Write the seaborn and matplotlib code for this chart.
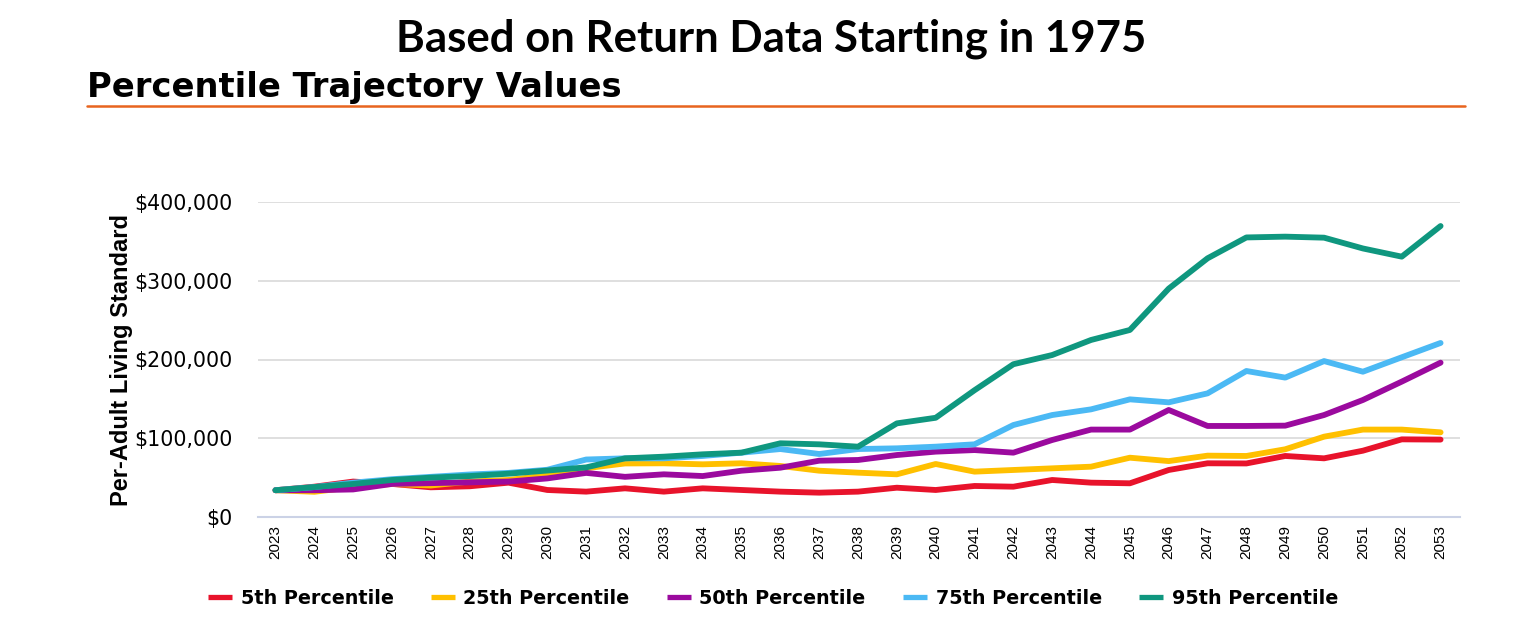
import pandas as pd
import matplotlib
matplotlib.use("Agg")
import matplotlib.pyplot as plt
from matplotlib.lines import Line2D
from matplotlib.ticker import FuncFormatter
import seaborn as sns

# Data (values in dollars)
years = list(range(2023, 2054))

p5 = [34000, 38500, 45000, 42000, 37700, 39000, 43600, 34300, 32200, 36400,
      32200, 36400, 34300, 32200, 30900, 32200, 37200, 34300, 39400, 38500,
      47000, 43600, 42800, 59700, 68200, 68000, 77500, 74500, 84200, 98600, 98300]
p25 = [34000, 32000, 38000, 42000, 40000, 45000, 47000, 53000, 62000, 68000,
       68200, 66900, 68200, 64800, 58800, 56300, 54200, 67300, 57600, 59700,
       61800, 63900, 75300, 71000, 77900, 77500, 86000, 102000, 111000, 111000, 107500]
p50 = [34000, 34000, 35000, 42000, 43000, 44000, 45000, 49000, 56000, 51000,
       54200, 52000, 58800, 62600, 71500, 72400, 78700, 83000, 85000, 81700,
       97800, 111000, 111000, 135900, 115600, 115600, 116000, 129500, 148600, 171900, 196000]
p75 = [34000, 38000, 43600, 48000, 51000, 54000, 56000, 60000, 73000, 74500,
       74500, 77500, 81700, 86300, 80000, 86300, 87200, 89300, 92300, 116800,
       129500, 136700, 149400, 145600, 157000, 185400, 177000, 198000, 184500, 202800, 221000]
p95 = [34000, 38000, 42000, 47000, 50000, 52000, 55000, 59000, 63000, 74500,
       76600, 79600, 81700, 93600, 92300, 89300, 118900, 126000, 161000, 194000,
       205700, 224800, 237500, 290000, 328500, 355000, 356000, 354700, 341000, 330600, 369500]

series_names = ["5th Percentile", "25th Percentile", "50th Percentile",
                "75th Percentile", "95th Percentile"]
series_values = [p5, p25, p50, p75, p95]
colors = ["#E8132B", "#FFC000", "#9B0A9E", "#4BB9F4", "#0F977F"]

records = []
for name, vals in zip(series_names, series_values):
    for yr, v in zip(years, vals):
        records.append({"year": yr, "value": v, "series": name})
df = pd.DataFrame(records)

sns.set_style("white")
plt.rcParams["font.family"] = ["Liberation Sans", "DejaVu Sans"]
plt.rcParams["text.color"] = "black"
plt.rcParams["axes.labelcolor"] = "black"
plt.rcParams["xtick.color"] = "black"
plt.rcParams["ytick.color"] = "black"

fig = plt.figure(figsize=(15.2, 6.32), dpi=100)
ax = fig.add_axes([258 / 1520, 1 - 517 / 632, (1460 - 258) / 1520, (517 - 202) / 632])

sns.lineplot(data=df, x="year", y="value", hue="series", hue_order=series_names,
             palette=colors, linewidth=4.2, ax=ax, legend=False)

ax.set_xlim(2022.55, 2053.5)
ax.set_ylim(0, 400000)
ax.set_yticks([0, 100000, 200000, 300000, 400000])
ax.yaxis.set_major_formatter(FuncFormatter(lambda v, p: f"${int(v):,}"))
ax.set_xticks(years)
ax.set_xticklabels([str(y) for y in years], rotation=90, fontsize=11)
ax.tick_params(axis="y", length=0, pad=18, labelsize=14.8, labelfontfamily="DejaVu Sans")
ax.tick_params(axis="x", length=0, pad=6)

ax.grid(axis="y", color="#D9D9D9", linewidth=1.2)
ax.set_axisbelow(True)
for s in ["top", "right", "left"]:
    ax.spines[s].set_visible(False)
ax.spines["bottom"].set_color("#CBD2E6")
ax.spines["bottom"].set_linewidth(1.5)

ax.set_xlabel("")
ax.set_ylabel("Per-Adult Living Standard", fontsize=17, fontweight="bold")
ax.yaxis.set_label_coords(-0.104, 0.5)

# Titles
fig.text(0.507, 0.938, "Based on Return Data Starting in 1975", ha="center", va="center",
         fontsize=31.5, fontweight="bold", family=["Lato", "DejaVu Sans"])
fig.text(87 / 1520, 1 - 97 / 632, "Percentile Trajectory Values", ha="left", va="baseline",
         fontsize=24.3, fontweight="bold", family="DejaVu Sans")
fig.add_artist(Line2D([87 / 1520, 1465 / 1520], [1 - 106 / 632, 1 - 106 / 632],
                      color="#E8641E", linewidth=1.8, transform=fig.transFigure))

# Legend
handles = [Line2D([0], [0], color=c, linewidth=3.8, solid_capstyle="butt") for c in colors]
fig.legend(handles, series_names, loc="center", bbox_to_anchor=(0.5085, 1 - 598 / 632),
           ncol=5, frameon=False, handlelength=1.25, handletextpad=0.45,
           columnspacing=1.95, prop={"weight": "bold", "size": 13.8, "family": "DejaVu Sans"})

plt.savefig("out.png", dpi=100)
